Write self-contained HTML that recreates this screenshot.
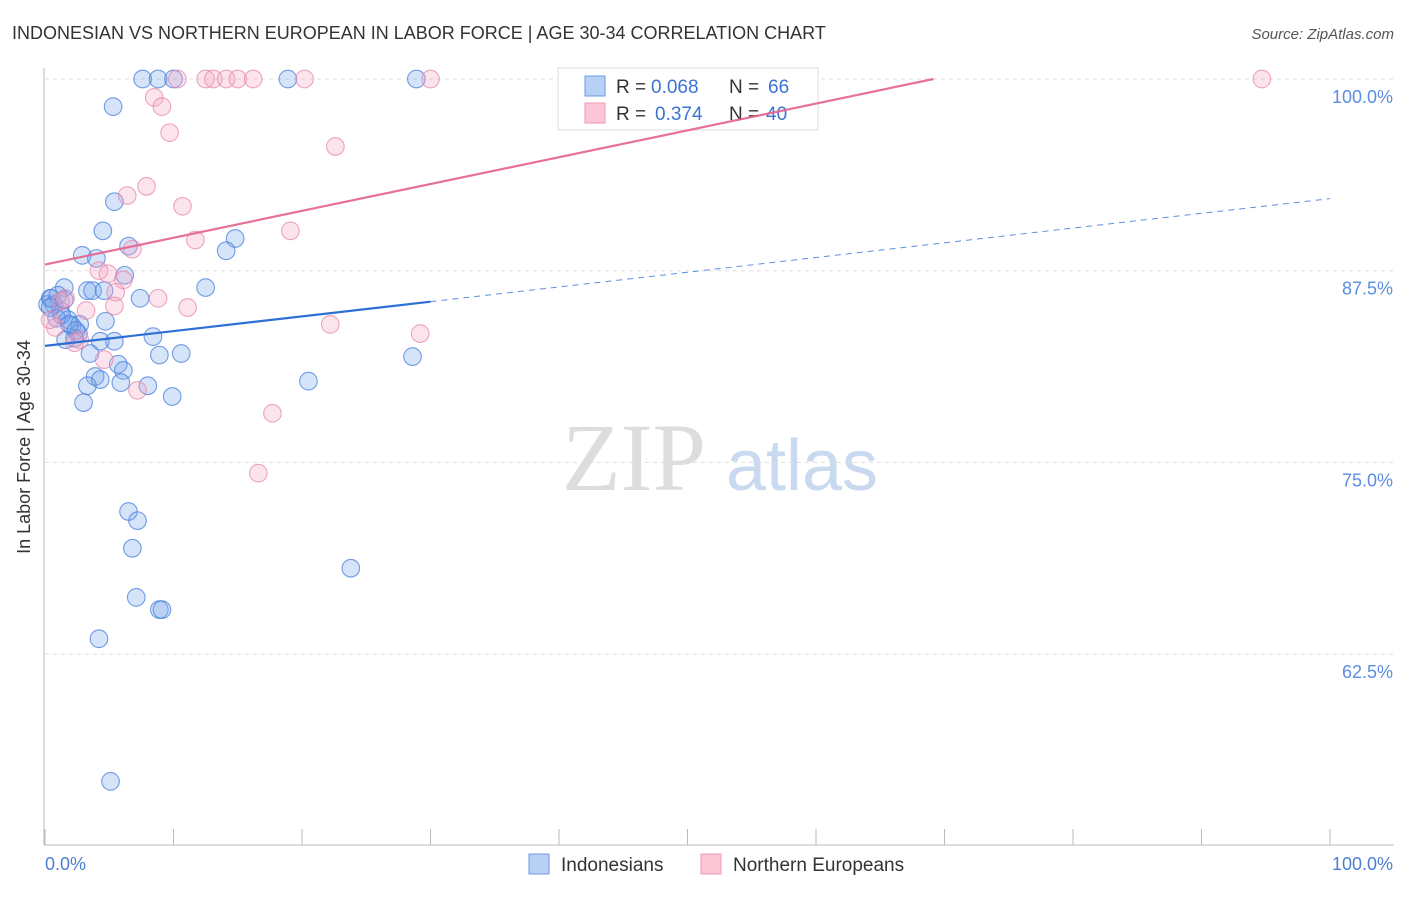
<!DOCTYPE html>
<html><head><meta charset="utf-8"><style>
body{margin:0;background:#fff;font-family:"Liberation Sans",sans-serif}
svg text{font-family:"Liberation Sans",sans-serif}
</style></head><body>
<svg id="c" width="1406" height="892" xmlns="http://www.w3.org/2000/svg">
<text x="12" y="39" font-size="18" fill="#333">INDONESIAN VS NORTHERN EUROPEAN IN LABOR FORCE | AGE 30-34 CORRELATION CHART</text>
<text x="1394" y="39" font-size="15" fill="#555" font-style="italic" text-anchor="end">Source: ZipAtlas.com</text>
<text x="40" y="457" font-size="18" fill="#333" text-anchor="middle" transform="rotate(-90 30 457)">In Labor Force | Age 30-34</text>
<g>
<text x="634" y="490" font-size="96" fill="#ddd" text-anchor="middle" style="font-family:'Liberation Serif',serif">ZIP</text>
<text x="802" y="490" font-size="72" fill="#c9d9f0" text-anchor="middle">atlas</text>
</g>
<g id="grid"></g>
<line x1="44" y1="68" x2="44" y2="845" stroke="#bbb"/>
<line x1="44" y1="845" x2="1394" y2="845" stroke="#bbb"/>
<g id="xt"></g>
<text x="45" y="870" font-size="18" fill="#4a7fd4">0.0%</text>
<text x="1393" y="870" font-size="18" fill="#4a7fd4" text-anchor="end">100.0%</text>
<g id="pts"></g>
<g>
<rect x="558" y="68" width="260" height="62" fill="#fff" stroke="#ddd"/>
<rect x="585" y="76" width="20" height="20" fill="#b7d0f5" stroke="#6b9be0"/>
<rect x="585" y="103" width="20" height="20" fill="#fcc6d6" stroke="#ee9ab4"/>
<text x="616" y="93" font-size="19" fill="#333">R =</text>
<text x="651" y="93" font-size="19" fill="#3a73d0">0.068</text>
<text x="729" y="93" font-size="19" fill="#333">N =</text>
<text x="768" y="93" font-size="19" fill="#3a73d0">66</text>
<text x="616" y="120" font-size="19" fill="#333">R =</text>
<text x="655" y="120" font-size="19" fill="#3a73d0">0.374</text>
<text x="729" y="120" font-size="19" fill="#333">N =</text>
<text x="766" y="120" font-size="19" fill="#3a73d0">40</text>
</g>
<g id="trend"></g>
<g>
<rect x="529" y="854" width="20" height="20" fill="#b7d0f5" stroke="#6b9be0"/>
<text x="561" y="871" font-size="19" fill="#333">Indonesians</text>
<rect x="701" y="854" width="20" height="20" fill="#fcc6d6" stroke="#ee9ab4"/>
<text x="733" y="871" font-size="19" fill="#333">Northern Europeans</text>
</g>
</svg>
<script>
const yTicks=[100,87.5,75,62.5];
const yTickLabels=["100.0%","87.5%","75.0%","62.5%"];
const xTicks=[0,10,20,30,40,50,60,70,80,90,100];
const blueX=[7.6,8.8,10.0,18.9,28.9,5.3,5.4,4.5,6.5,14.8,14.1,2.9,4.0,6.2,12.5,1.5,3.3,3.7,7.4,0.4,0.7,1.2,1.8,2.1,2.7,4.7,2.6,2.3,5.4,4.3,8.4,3.5,8.9,10.6,5.7,6.1,3.9,4.3,5.9,8.0,3.3,20.5,28.6,9.9,3.0,6.5,7.2,6.8,7.1,8.9,9.1,23.8,4.2,5.1,0.2,0.5,0.9,1.3,1.9,2.4,4.6,1.6,1.0,0.4,1.5];
const blueY=[100,100,100,100,100,98.2,92.0,90.1,89.1,89.6,88.8,88.5,88.3,87.2,86.4,86.4,86.2,86.2,85.7,85.7,85.3,84.9,84.3,83.9,84.0,84.2,83.4,83.1,82.9,82.9,83.2,82.1,82.0,82.1,81.4,81.0,80.6,80.4,80.2,80.0,80.0,80.3,81.9,79.3,78.9,71.8,71.2,69.4,66.2,65.4,65.4,68.1,63.5,54.2,85.3,85.7,84.4,84.6,84.0,83.6,86.2,83.0,85.9,85.1,85.6];
const pinkX=[10.3,12.5,13.1,14.1,15.0,16.2,20.2,30.0,40.9,94.7,8.5,9.1,9.7,22.6,7.9,6.4,10.7,19.1,11.7,6.8,4.2,4.9,6.1,5.5,8.8,11.1,5.4,3.2,1.6,1.2,0.8,2.7,2.3,22.2,29.2,4.6,7.2,17.7,16.6,0.4];
const pinkY=[100,100,100,100,100,100,100,100,100,100,98.8,98.2,96.5,95.6,93.0,92.4,91.7,90.1,89.5,88.9,87.5,87.3,86.9,86.1,85.7,85.1,85.2,84.9,85.7,85.5,83.8,83.0,82.8,84.0,83.4,81.7,79.7,78.2,74.3,84.3];
const blueTrend=[82.6,0.096];
const pinkTrend=[87.9,0.175];
const X=v=>45+v*12.85, Y=v=>79+(100-v)*15.336;
const NS='http://www.w3.org/2000/svg';
function mk(t,a,p){const e=document.createElementNS(NS,t);for(const k in a)e.setAttribute(k,a[k]);p.appendChild(e);return e;}
const g=document.getElementById('grid');
yTicks.forEach((v,i)=>{
 const l=mk('line',{x1:45,x2:1394,y1:Y(v),y2:Y(v),stroke:'#ddd','stroke-dasharray':'4,4'},g);
 
 
 const t=mk('text',{x:1393,y:Y(v)+24,'font-size':18,fill:'#5b8ee0','text-anchor':'end'},g);
 t.textContent=yTickLabels[i];
 
 
});
const xt=document.getElementById('xt');
xTicks.forEach(v=>{
 const l=mk('line',{x1:X(v),x2:X(v),y1:829,y2:845,stroke:'#bbb'},xt);
 
 
});
const pts=document.getElementById('pts');
blueX.forEach((v,i)=>{
 const c=mk('circle',{cx:X(v),cy:Y(blueY[i]),r:8.8,fill:'rgba(120,165,235,0.3)',stroke:'rgba(70,125,220,0.75)','stroke-width':1.1},pts);
 
 
});
pinkX.forEach((v,i)=>{
 const c=mk('circle',{cx:X(v),cy:Y(pinkY[i]),r:8.8,fill:'rgba(245,165,195,0.3)',stroke:'rgba(230,130,165,0.7)','stroke-width':1.1},pts);
 
 
});
const tr=document.getElementById('trend');
const f=(t,x)=>t[0]+t[1]*x;
let l=mk('line',{x1:X(0),y1:Y(f(blueTrend,0)),x2:X(30),y2:Y(f(blueTrend,30)),stroke:'#2e6fd6','stroke-width':2.2},tr);


l=mk('line',{x1:X(30),y1:Y(f(blueTrend,30)),x2:X(100),y2:Y(f(blueTrend,100)),stroke:'#5b8fe0','stroke-width':1,'stroke-dasharray':'6,5'},tr);


const pe=(100-pinkTrend[0])/pinkTrend[1];
l=mk('line',{x1:X(0),y1:Y(f(pinkTrend,0)),x2:X(pe),y2:Y(100),stroke:'#e4628e','stroke-width':2.2,'stroke-opacity':0.9},tr);


</script>
</body></html>
